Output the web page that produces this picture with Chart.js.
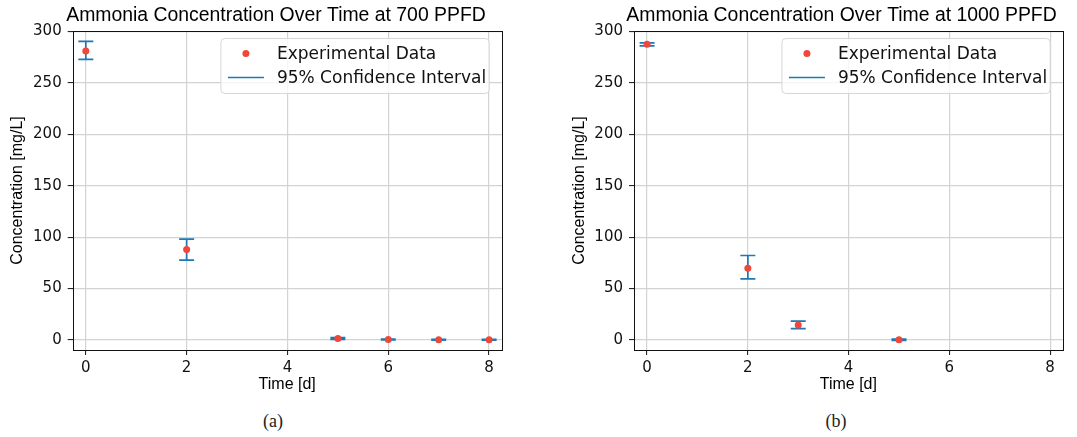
<!DOCTYPE html>
<html>
<head>
<meta charset="utf-8">
<script src="https://cdn.jsdelivr.net/npm/chart.js@4.4.1/dist/chart.umd.min.js"></script>
<style>
html, body { margin: 0; padding: 0; background: #fff; overflow: hidden; width: 1077px; height: 437px; position: relative; }
canvas { position: absolute; top: 0; }
.cap { position: absolute; top: 411px; font-family: "Liberation Serif", "DejaVu Serif", serif; font-size: 18px; color: #222; transform: translateX(-50%); }
</style>
</head>
<body>
<canvas id="chartA" width="552" height="400" style="left:0px"></canvas>
<canvas id="chartB" width="563" height="400" style="left:560px"></canvas>
<div class="cap" style="left:273px">(a)</div>
<div class="cap" style="left:836px">(b)</div>
<script>
// 700 PPFD
const timeA = [0, 2, 5, 6, 7, 8];
const meanA = [281, 88, 1.5, 0.4, 0.3, 0.3];
const lowA  = [272.8, 77.7, 0.6, 0.0, -0.1, -0.1];
const highA = [290.3, 98.1, 2.4, 0.8, 0.7, 0.7];

// 1000 PPFD
const timeB = [0, 2, 3, 5];
const meanB = [287.5, 69.9, 14.6, 0.3];
const lowB  = [286, 59.5, 11.0, -0.3];
const highB = [289, 82.2, 18.4, 0.9];

const titleA = 'Ammonia Concentration Over Time at 700 PPFD';
const titleB = 'Ammonia Concentration Over Time at 1000 PPFD';
const seriesLabels = ['Experimental Data', '95% Confidence Interval'];
const xLabel = 'Time [d]';
const yLabel = 'Concentration [mg/L]';
const xStep = 2, yStep = 50;

const dotColor = '#f0473a';
const barColor = '#1f77b4';

// error bars drawn from the CI dataset through the chart scales
const errorBars = {
  id: 'errorBars',
  beforeDatasetsDraw(chart) {
    const {ctx, scales: {x, y}} = chart;
    chart.data.datasets.forEach(ds => {
      if (!ds.errorBars) return;
      ctx.save();
      ctx.strokeStyle = ds.borderColor;
      ctx.lineWidth = 1.7;
      ds.data.forEach(p => {
        const px = x.getPixelForValue(p.x);
        const top = y.getPixelForValue(p.high);
        const bot = y.getPixelForValue(p.low);
        ctx.beginPath();
        ctx.moveTo(px, top); ctx.lineTo(px, bot);
        ctx.moveTo(px - 7.5, top); ctx.lineTo(px + 7.5, top);
        ctx.moveTo(px - 7.5, bot); ctx.lineTo(px + 7.5, bot);
        ctx.stroke();
      });
      ctx.restore();
    });
  }
};

// axes frame + legend box in upper right
const frameAndLegend = {
  id: 'frameAndLegend',
  afterDraw(chart) {
    const {ctx, chartArea: a} = chart;
    ctx.save();
    ctx.strokeStyle = '#111';
    ctx.lineWidth = 1;
    ctx.strokeRect(Math.round(a.left) + 0.5, Math.round(a.top) + 0.5, Math.round(a.right - a.left), Math.round(a.bottom - a.top));

    ctx.font = '17px "DejaVu Sans"';
    const ds = chart.data.datasets;
    const tw = Math.max(...ds.map(d => ctx.measureText(d.label).width));
    const w = 56 + tw + 3, h = 55;
    const bx = a.right - 12.5 - w, by = a.top + 7.5;
    ctx.beginPath();
    ctx.roundRect(bx, by, w, h, 4);
    ctx.fillStyle = 'rgba(255,255,255,0.8)';
    ctx.fill();
    ctx.strokeStyle = '#d6d6d6';
    ctx.stroke();

    const row1 = by + 15, row2 = by + 39;
    ctx.fillStyle = ds[0].pointBackgroundColor;
    ctx.beginPath();
    ctx.arc(bx + 25, row1, 3.5, 0, Math.PI * 2);
    ctx.fill();
    ctx.strokeStyle = ds[1].borderColor;
    ctx.lineWidth = 1.7;
    ctx.beginPath();
    ctx.moveTo(bx + 7, row2); ctx.lineTo(bx + 43, row2);
    ctx.stroke();

    ctx.fillStyle = '#111';
    ctx.textBaseline = 'middle';
    ctx.fillText(ds[0].label, bx + 56, row1 + 1);
    ctx.fillText(ds[1].label, bx + 56, row2 + 1);
    ctx.restore();
  }
};

// chartLeft/chartRight: plot edges in canvas px; titleMid: title centre; yTitleMid: y-label centre
function makeChart(id, title, t, mean, low, high, canvasW, chartLeft, chartRight, titleMid, yTitleMid) {
  const pts = t.map((v, i) => ({x: v, y: mean[i]}));
  const ci = t.map((v, i) => ({x: v, y: mean[i], low: low[i], high: high[i]}));
  const padR = canvasW - chartRight;
  // re-centre the title block (matches the slightly off-centre title of the original)
  const titleShift = {
    id: 'titleShift',
    afterLayout(chart) {
      const tb = chart.titleBlock;
      tb.left = 2 * titleMid - tb.right;
    }
  };
  return new Chart(document.getElementById(id), {
    type: 'scatter',
    data: {
      datasets: [
        { label: seriesLabels[0], data: pts, pointRadius: 3.5, pointBorderWidth: 0,
          pointBackgroundColor: dotColor, backgroundColor: dotColor, order: 0 },
        { label: seriesLabels[1], data: ci, errorBars: true, pointRadius: 0,
          borderColor: barColor, showLine: false, order: 1 }
      ]
    },
    options: {
      responsive: false,
      animation: false,
      devicePixelRatio: 1,
      layout: { padding: { left: 0, right: padR, top: 0, bottom: 0 } },
      plugins: {
        legend: { display: false },
        tooltip: { enabled: false },
        title: {
          display: true, text: title, color: '#000',
          font: { family: 'Liberation Sans', size: 19.4, weight: 'normal' },
          padding: { top: 4, bottom: 3.7 }
        }
      },
      scales: {
        x: {
          type: 'linear', min: -0.26, max: 8.25,
          afterFit(s) { s.height = 50; },
          ticks: { stepSize: xStep, includeBounds: false, padding: 4, color: '#111',
                   font: { family: 'DejaVu Sans', size: 15 } },
          grid: { color: '#d3d3d3', lineWidth: 1.2, tickLength: 5, tickColor: '#111', tickWidth: 1 },
          border: { display: false },
          title: { display: true, text: xLabel, color: '#000',
                   font: { family: 'Liberation Sans', size: 16 }, padding: { top: 0, bottom: 5.5 } }
        },
        y: {
          type: 'linear', min: -9.7, max: 300.5,
          afterFit(s) { s.width = chartLeft; },
          ticks: { stepSize: yStep, includeBounds: false, padding: 6, color: '#111',
                   font: { family: 'DejaVu Sans', size: 15 } },
          grid: { color: '#d3d3d3', lineWidth: 1.2, tickLength: 5, tickColor: '#111', tickWidth: 1 },
          border: { display: false },
          title: { display: true, text: yLabel, color: '#000',
                   font: { family: 'Liberation Sans', size: 16 }, padding: { top: yTitleMid - 9.6, bottom: 0 } }
        }
      }
    },
    plugins: [errorBars, frameAndLegend, titleShift]
  });
}

makeChart('chartA', titleA, timeA, meanA, lowA, highA, 552, 72.7, 501.7, 276, 18);
makeChart('chartB', titleB, timeB, meanB, lowB, highB, 563, 74, 502.7, 281.5, 20);
</script>
</body>
</html>
